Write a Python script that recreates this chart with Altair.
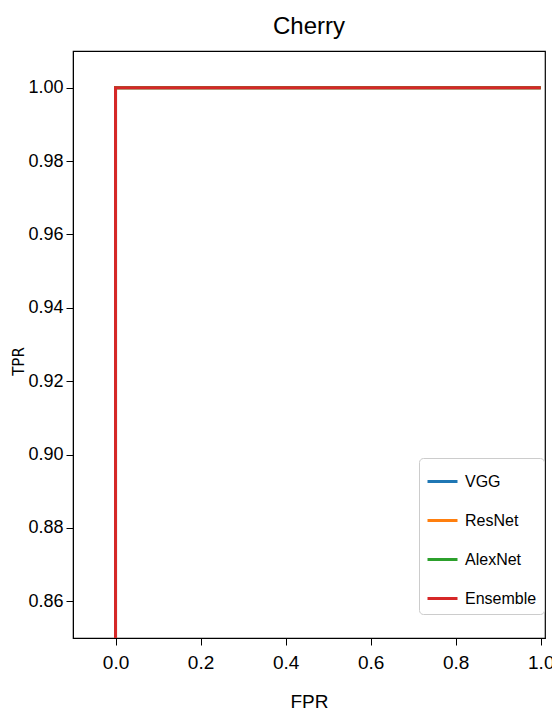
import altair as alt
import pandas as pd

models = ["VGG", "ResNet", "AlexNet", "Ensemble"]
colors = ["#1f77b4", "#ff7f0e", "#2ca02c", "#d62728"]
fpr = [0.0, 0.0, 1.0]
tpr = [0.0, 1.0, 1.0]
x_ticks = [0.0, 0.2, 0.4, 0.6, 0.8, 1.0]
y_ticks = [0.86, 0.88, 0.90, 0.92, 0.94, 0.96, 0.98, 1.00]

rows = []
for m in models:
    for i, (a, b) in enumerate(zip(fpr, tpr)):
        rows.append({"model": m, "fpr": a, "tpr": b, "order": i})
df = pd.DataFrame(rows)

FONT = "Liberation Sans"

color_scale = alt.Scale(domain=models, range=colors)
legend = alt.Legend(
    title=None, orient="none", legendX=346, legendY=407,
    symbolType="stroke", symbolSize=900, symbolStrokeWidth=3,
    labelFont=FONT, labelFontSize=16, labelColor="black",
    labelOffset=6, rowPadding=14, padding=7,
    strokeColor="#cccccc", fillColor="white", cornerRadius=4,
)

xaxis = alt.Axis(
    title="FPR", values=x_ticks, format=".1f", grid=False,
    labelFont=FONT, labelFontSize=19, labelColor="black", labelPadding=8,
    titleFont=FONT, titleFontSize=19, titleFontWeight="normal", titleColor="black",
    titlePadding=20, tickSize=7, tickColor="black", domainColor="black",
)
yaxis = alt.Axis(
    title="TPR", values=y_ticks, format=".2f", grid=False,
    labelFont=FONT, labelFontSize=18, labelColor="black", labelPadding=3,
    titleFont="DejaVu Sans", titleFontSize=15, titleFontWeight="normal", titleColor="black",
    titleX=-55, titleY=310, titleAngle=-90, titleAlign="center", titleBaseline="middle",
    tickSize=7, tickColor="black", domainColor="black",
)

layers = []
for m in models:
    layers.append(
        alt.Chart(df).transform_filter(alt.datum.model == m).mark_line(strokeWidth=3, clip=True).encode(
            x=alt.X("fpr:Q", scale=alt.Scale(domain=[-0.1, 1.01], nice=False, zero=False), axis=xaxis),
            y=alt.Y("tpr:Q", scale=alt.Scale(domain=[0.85, 1.01], nice=False, zero=False), axis=yaxis),
            color=alt.Color("model:N", scale=color_scale, legend=legend),
            order="order:Q",
        )
    )

chart = alt.layer(*layers).properties(
    width=472, height=587,
    background="white",
    title=alt.TitleParams("Cherry", font=FONT, fontSize=24, fontWeight="normal",
                          color="black", offset=12),
    autosize=alt.AutoSizeParams(type="none"),
    padding={"left": 65, "top": 43, "right": 7, "bottom": 74},
).configure_view(stroke="black", strokeWidth=1.2)

chart.save("out.html", embed_options={"renderer": "svg", "actions": False})
